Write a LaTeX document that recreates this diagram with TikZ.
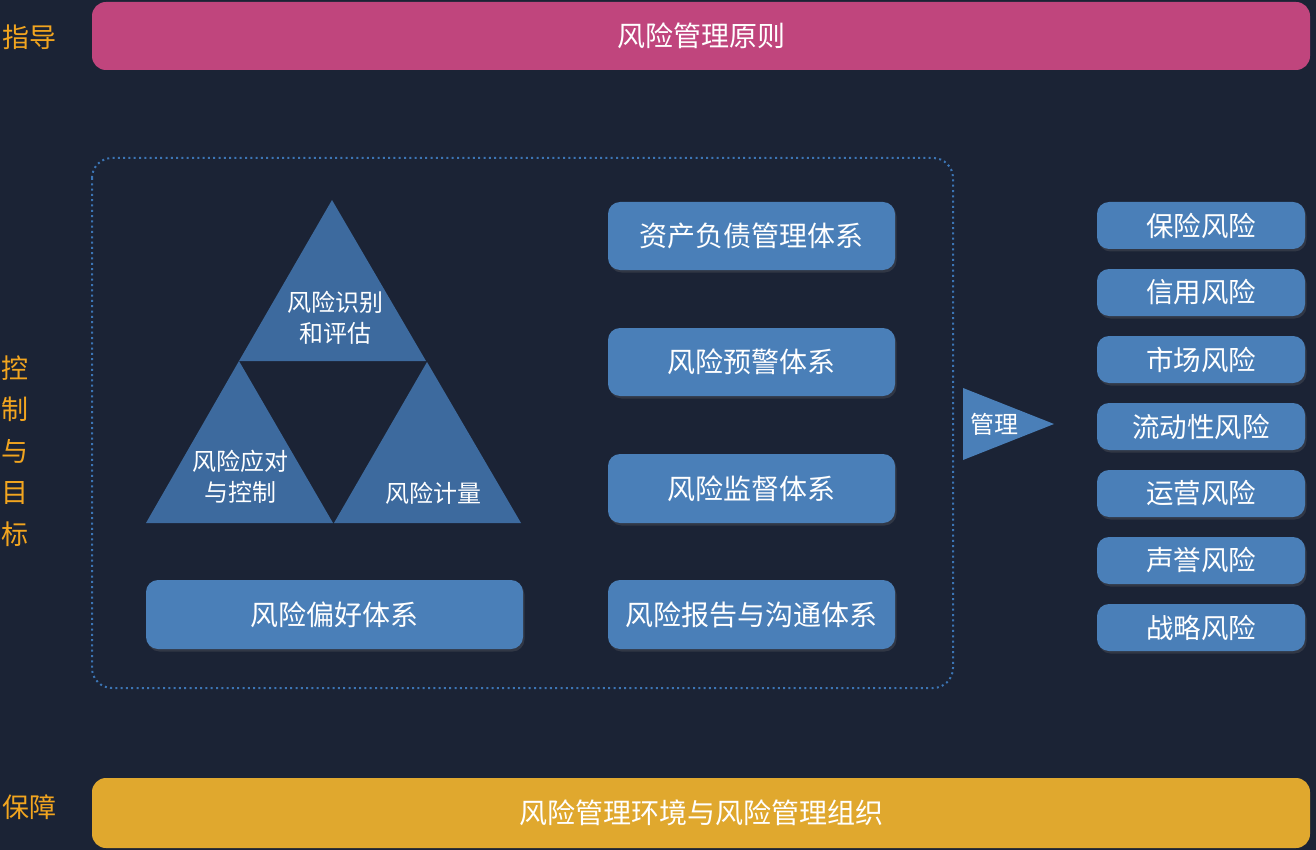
\documentclass[tikz,border=0pt]{standalone}
\usepackage{fontspec}
\setmainfont{Noto Sans CJK SC}
\usetikzlibrary{shadows}
\definecolor{bg}{HTML}{1B2335}
\definecolor{pinkbar}{HTML}{C0457D}
\definecolor{goldbar}{HTML}{E0A82E}
\definecolor{boxblue}{HTML}{4A7FB8}
\definecolor{triblue}{HTML}{3D6A9E}
\definecolor{dotblue}{HTML}{3C75B5}
\definecolor{lab}{HTML}{F2A51F}
\tikzset{
  bar/.style={rounded corners=14pt, draw=none, text=white, font=\fontsize{28}{32}\selectfont},
  bluebox/.style={fill=boxblue, rounded corners=12pt, text=white, draw=none,
     drop shadow={opacity=0.22, shadow xshift=1.5pt, shadow yshift=-2.5pt},
     font=\fontsize{28}{32}\selectfont},
  riskbox/.style={fill=boxblue, rounded corners=12pt, text=white, draw=none,
     drop shadow={opacity=0.22, shadow xshift=1.5pt, shadow yshift=-2.5pt},
     font=\fontsize{27.5}{30}\selectfont},
  sidelab/.style={text=lab, font=\fontsize{27}{30}\selectfont, inner sep=0pt},
  tritext/.style={text=white, align=center, font=\fontsize{24}{31}\selectfont, inner sep=0pt},
  tri/.style={fill=triblue, draw=none},
}
\begin{document}
\begin{tikzpicture}[x=1pt,y=-1pt]
\fill[bg] (0,0) rectangle (1316,850);
\useasboundingbox (0,0) rectangle (1316,850);
% top and bottom bars
\node[bar, fill=pinkbar, minimum width=1218pt, minimum height=68pt] (top) at (701,36) {风险管理原则};
\node[bar, fill=goldbar, minimum width=1218pt, minimum height=70pt] (bottom) at (701,813) {风险管理环境与风险管理组织};
% side labels
\node[sidelab] (guide) at (29,37) {指导};
\node[sidelab] (guard) at (29,807) {保障};
\node[sidelab, align=center, font=\fontsize{27}{41.5}\selectfont] (ctrl) at (15,451) {控\\制\\与\\目\\标};
% dotted frame
\draw[dotblue, line width=2pt, dash pattern=on 2pt off 3.3pt, rounded corners=20pt] (92,158) rectangle (953,688);
% triangles
\coordinate (ta) at (332,200);
\coordinate (tl) at (239,361);
\coordinate (tr) at (426,361);
\coordinate (bl) at (146,523);
\coordinate (bm) at (333,523);
\coordinate (bm2) at (334,523);
\coordinate (br) at (521,523);
\coordinate (tr2) at (427,362);
\fill[tri] (ta) -- (tl) -- (tr) -- cycle;
\fill[tri] (tl) -- (bl) -- (bm) -- cycle;
\fill[tri] (tr2) -- (bm2) -- (br) -- cycle;
\node[tritext] (t1) at (335,318) {风险识别\\和评估};
\node[tritext] (t2) at (240,477) {风险应对\\与控制};
\node[tritext] (t3) at (433,493) {风险计量};
% preference box
\node[bluebox, minimum width=377pt, minimum height=69pt] (pref) at (334.5,614.5) {风险偏好体系};
% middle boxes
\node[bluebox, minimum width=287pt, minimum height=68pt] (m1) at (751.5,236) {资产负债管理体系};
\node[bluebox, minimum width=287pt, minimum height=68pt] (m2) at (751.5,362) {风险预警体系};
\node[bluebox, minimum width=287pt, minimum height=69pt] (m3) at (751.5,488.5) {风险监督体系};
\node[bluebox, minimum width=287pt, minimum height=69pt] (m4) at (751.5,614.5) {风险报告与沟通体系};
% manage arrow
\coordinate (a1) at (963,388);
\coordinate (a2) at (963,460);
\coordinate (a3) at (1054,424);
\fill[boxblue] (a1) -- (a3) -- (a2) -- cycle;
\node[text=white, font=\fontsize{24}{28}\selectfont, inner sep=0pt] (mg) at (994,424) {管理};
% risk boxes
\foreach \n/\y/\t in {r1/225.5/保险风险, r2/292.5/信用风险, r3/359.5/市场风险, r4/426.5/流动性风险, r5/493.5/运营风险, r6/560.5/声誉风险, r7/627.5/战略风险}{
  \node[riskbox, minimum width=208pt, minimum height=47pt] (\n) at (1201,\y) {\t};
}
\end{tikzpicture}
\end{document}
